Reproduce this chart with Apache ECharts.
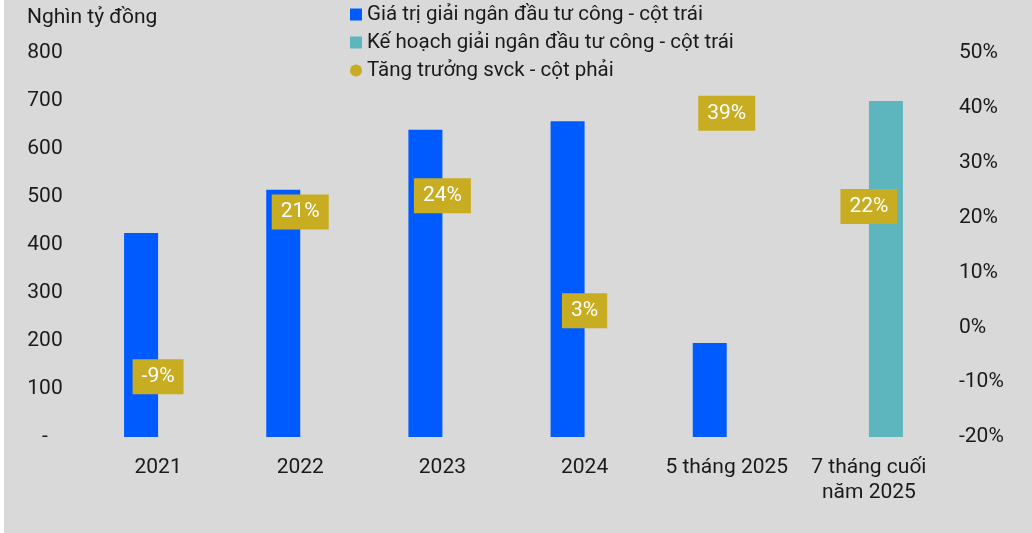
<!DOCTYPE html>
<html>
<head>
    <meta charset="utf-8">
    <title>Giải ngân đầu tư công</title>
    <script src="https://cdn.jsdelivr.net/npm/echarts@6/dist/echarts.min.js"></script>
    <style>
        body { margin: 0; background: #fff; }
    </style>
</head>
<body>
    <div id="main" style="width: 1032px;height:533px;"></div>
    <script type="text/javascript">
        // dữ liệu
        var categories = ['2021', '2022', '2023', '2024', '5 tháng 2025', '7 tháng cuối\nnăm 2025'];
        var giaTri = [425, 515, 640, 658, 196, null];      // Giá trị giải ngân - cột trái
        var keHoach = [null, null, null, null, null, 700];  // Kế hoạch giải ngân - cột trái
        var tangTruong = [-9, 21, 24, 3, 39, 22];           // Tăng trưởng svck (%) - cột phải

        var nameGiaTri = 'Giá trị giải ngân đầu tư công - cột trái';
        var nameKeHoach = 'Kế hoạch giải ngân đầu tư công - cột trái';
        var nameTangTruong = 'Tăng trưởng svck - cột phải';

        var textColor = '#1a1a1a';
        var fontFamily = 'Roboto';

        var myChart = echarts.init(document.getElementById('main'));

        var option = {
            backgroundColor: '#d9d9d9',
            textStyle: { fontFamily: fontFamily, color: textColor },
            title: {
                text: 'Nghìn tỷ đồng',
                left: 22,
                top: 2,
                textStyle: { fontSize: 21, fontWeight: 'normal', color: textColor, fontFamily: fontFamily }
            },
            legend: {
                orient: 'vertical',
                left: 345,
                top: -1,
                itemWidth: 12,
                itemHeight: 12,
                itemGap: 7,
                textStyle: { fontSize: 20.5, color: textColor, fontFamily: fontFamily },
                data: [
                    { name: nameGiaTri, icon: 'rect' },
                    { name: nameKeHoach, icon: 'rect' },
                    { name: nameTangTruong, icon: 'circle' }
                ]
            },
            graphic: [{
                type: 'rect',
                left: 0, top: 0,
                shape: { width: 4, height: 533 },
                style: { fill: '#ffffff' }
            }],
            grid: {
                left: 87,
                right: 92,
                top: 53,
                bottom: 96
            },
            xAxis: {
                type: 'category',
                data: categories,
                axisLine: { show: false },
                axisTick: { show: false },
                axisLabel: {
                    interval: 0,
                    margin: 18,
                    fontSize: 21,
                    lineHeight: 25,
                    color: textColor,
                    fontFamily: fontFamily
                }
            },
            yAxis: [{
                type: 'value',
                min: 0,
                max: 800,
                interval: 100,
                splitLine: { show: false },
                axisLine: { show: false },
                axisTick: { show: false },
                axisLabel: {
                    align: 'center',
                    margin: 42,
                    fontSize: 21,
                    color: textColor,
                    fontFamily: fontFamily,
                    formatter: function (v) { return v === 0 ? '-' : v; }
                }
            }, {
                type: 'value',
                min: -20,
                max: 50,
                interval: 10,
                splitLine: { show: false },
                axisLine: { show: false },
                axisTick: { show: false },
                axisLabel: {
                    align: 'left',
                    margin: 19,
                    fontSize: 21,
                    color: textColor,
                    fontFamily: fontFamily,
                    formatter: '{value}%'
                }
            }],
            series: [{
                name: nameGiaTri,
                type: 'bar',
                data: giaTri,
                barWidth: 34,
                barGap: '0%',
                itemStyle: { color: '#005bff' }
            }, {
                name: nameKeHoach,
                type: 'bar',
                data: keHoach,
                barWidth: 34,
                barGap: '0%',
                itemStyle: { color: '#5db5bd' }
            }, {
                name: nameTangTruong,
                type: 'scatter',
                yAxisIndex: 1,
                data: tangTruong,
                symbolSize: 0,
                itemStyle: { color: '#c8ac22', opacity: 1 },
                label: {
                    show: true,
                    position: 'inside',
                    formatter: '{c}%',
                    color: '#ffffff',
                    fontSize: 21,
                    lineHeight: 21,
                    fontFamily: fontFamily,
                    backgroundColor: '#c8ac22',
                    padding: [7, 9, 7, 9]
                },
                z: 5
            }]
        };

        myChart.setOption(option);
    </script>
</body>
</html>
